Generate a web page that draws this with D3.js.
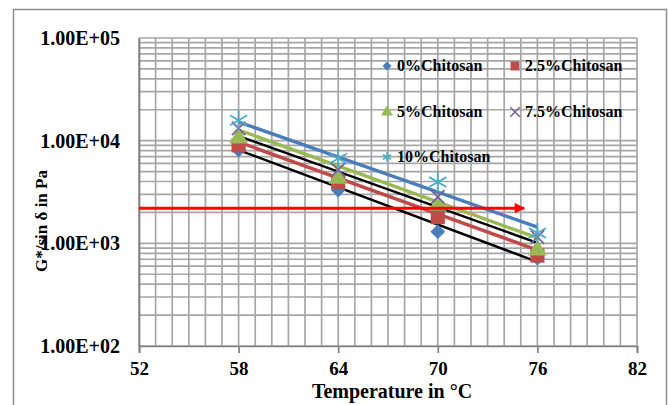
<!DOCTYPE html>
<html>
<head>
<meta charset="utf-8">
<script src="https://cdn.jsdelivr.net/npm/d3@7"></script>
<style>
  body { margin: 0; background: #fff; }
  text { font-family: "Liberation Serif", "Times New Roman", serif; font-weight: bold; fill: #000; }
</style>
</head>
<body>
<svg id="chart" width="668" height="405"></svg>
<script>
// temperatures (°C)
const temps = [58, 64, 70, 76];
const seriesNames = ["0%Chitosan", "2.5%Chitosan", "5%Chitosan", "7.5%Chitosan", "10%Chitosan"];
// G*/sin δ (Pa) per series
const chitosan0 = [8100, 3300, 1300, 720];
const chitosan25 = [9000, 3950, 1800, 760];
const chitosan5 = [10600, 4300, 2360, 860];
const chitosan75 = [13200, 5200, 2830, 1150];
const chitosan10 = [15800, 6700, 3950, 1260];
// trend lines, values at 58 and 76 °C
const trendStart = [15200, 12700, 11100, 9700, 8100];
const trendEnd = [1440, 1130, 1010, 860, 660];
const trendColors = ["#4a7ebb", "#98b954", "#000000", "#be4b48", "#000000"];
// threshold arrow
const thresholdValue = 2200;
const thresholdEnd = 75.2;
const xTicks = [52, 58, 64, 70, 76, 82];
const yTicks = [100, 1000, 10000, 100000];

document.addEventListener("DOMContentLoaded", function() {
    const svg = d3.select("#chart"),
          margin = {top: 38, right: 31, bottom: 59, left: 139},
          width = +svg.attr("width") - margin.left - margin.right,
          height = +svg.attr("height") - margin.top - margin.bottom;

    const colors = ["#4a7ebb", "#be4b48", "#98b954", "#7d60a0", "#4bacc6"];
    const data = [chitosan0, chitosan25, chitosan5, chitosan75, chitosan10];

    // outer frame
    svg.append("rect")
        .attr("x", 13.5).attr("y", 9.5)
        .attr("width", 653).attr("height", 410)
        .attr("fill", "none").attr("stroke", "#8c8c8c").attr("stroke-width", 1.5);

    const g = svg.append("g").attr("transform", "translate(" + margin.left + "," + margin.top + ")");

    const x = d3.scaleLinear().domain([52, 82]).range([0, width]),
          y = d3.scaleLog().domain([100, 100000]).range([height, 0]);

    // grid lines
    const xGrid = d3.range(52, 83, 1);
    g.append("g").selectAll("line").data(xGrid).join("line")
        .attr("x1", d => x(d)).attr("x2", d => x(d))
        .attr("y1", 0).attr("y2", height)
        .attr("stroke", "#a6a6a6").attr("stroke-width", 1.7);

    const yGrid = [];
    [100, 1000, 10000].forEach(p => d3.range(1, 10).forEach(m => yGrid.push(p * m)));
    yGrid.push(100000);
    g.append("g").selectAll("line").data(yGrid).join("line")
        .attr("x1", 0).attr("x2", width)
        .attr("y1", d => y(d)).attr("y2", d => y(d))
        .attr("stroke", "#a6a6a6").attr("stroke-width", 1.7);

    // x axis
    const xAxis = g.append("g")
        .attr("transform", "translate(0," + height + ")")
        .call(d3.axisBottom(x).tickValues(xTicks).tickSize(7).tickPadding(9));
    xAxis.select(".domain").attr("stroke", "#808080").attr("stroke-width", 1.7);
    xAxis.selectAll(".tick line").attr("stroke", "#808080").attr("stroke-width", 1.7);
    xAxis.selectAll("text").attr("font-size", 19).attr("font-family", null).attr("fill", "#000");

    // y axis
    const yAxis = g.append("g")
        .call(d3.axisLeft(y).tickValues(yTicks).tickSize(0).tickPadding(19)
              .tickFormat(d => d.toExponential(2).toUpperCase().replace("E+", "E+0")));
    yAxis.select(".domain").attr("stroke", "#808080").attr("stroke-width", 1.7);
    yAxis.selectAll("text").attr("font-size", 20).attr("font-family", null).attr("fill", "#000");

    // trend lines
    const line = d3.line().x(d => x(d[0])).y(d => y(d[1]));
    trendStart.forEach((v, i) => {
        g.append("path")
            .datum([[temps[0], v], [temps[3], trendEnd[i]]])
            .attr("d", line)
            .attr("fill", "none")
            .attr("stroke", trendColors[i])
            .attr("stroke-width", i === 2 || i === 4 ? 2.4 : 3.4);
    });

    // markers (diamond = square turned 45°)
    const symbols = [d3.symbolSquare, d3.symbolSquare, d3.symbolTriangle, d3.symbolTimes, d3.symbolAsterisk];
    const rotate = [45, 0, 0, 0, 0];
    const sizes = [110, 200, 150, 120, 280];
    data.forEach((vals, i) => {
        const isStroke = i >= 3;
        g.append("g").selectAll("path").data(vals).join("path")
            .attr("transform", (d, j) => "translate(" + x(temps[j]) + "," + y(d) + ") rotate(" + rotate[i] + ")")
            .attr("d", d3.symbol().type(symbols[i]).size(sizes[i]))
            .attr("fill", isStroke ? "none" : colors[i])
            .attr("stroke", isStroke ? colors[i] : "none")
            .attr("stroke-width", 1.8);
    });

    // threshold arrow
    svg.append("defs").append("marker")
        .attr("id", "arrow").attr("viewBox", "0 0 10 10")
        .attr("refX", 9).attr("refY", 5)
        .attr("markerWidth", 6).attr("markerHeight", 3.5)
        .attr("orient", "auto")
        .append("path").attr("d", "M0,0 L10,5 L0,10 z").attr("fill", "#ff0000");
    g.append("line")
        .attr("x1", x(52)).attr("x2", x(thresholdEnd))
        .attr("y1", y(thresholdValue)).attr("y2", y(thresholdValue))
        .attr("stroke", "#ff0000").attr("stroke-width", 3)
        .attr("marker-end", "url(#arrow)");

    // legend
    const legend = g.append("g");
    const legPos = [[248, 28], [376, 28], [248, 74], [376, 74], [248, 119]];
    seriesNames.forEach((name, i) => {
        const item = legend.append("g").attr("transform", "translate(" + legPos[i][0] + "," + legPos[i][1] + ")");
        const isStroke = i >= 3;
        item.append("path")
            .attr("transform", "rotate(" + rotate[i] + ")")
            .attr("d", d3.symbol().type(symbols[i]).size(i === 0 ? 40 : i === 1 ? 80 : 60))
            .attr("fill", isStroke ? "none" : colors[i])
            .attr("stroke", isStroke ? colors[i] : "none")
            .attr("stroke-width", 1.6);
        item.append("text")
            .attr("x", 10).attr("y", 5)
            .attr("font-size", 16)
            .text(name);
    });

    // axis titles
    svg.append("text")
        .attr("transform", "translate(47,221) rotate(-90)")
        .attr("text-anchor", "middle")
        .attr("font-size", 17)
        .text("G*/sin δ in Pa");
    svg.append("text")
        .attr("x", 392).attr("y", 398)
        .attr("text-anchor", "middle")
        .attr("font-size", 20)
        .text("Temperature in °C");
});
</script>
</body>
</html>
